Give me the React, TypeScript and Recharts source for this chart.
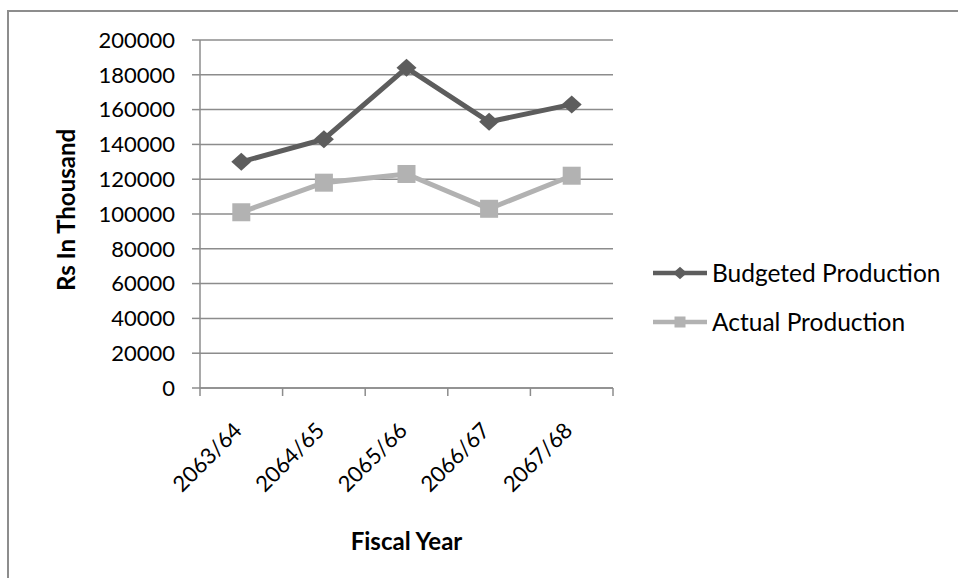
import { LineChart, Line, XAxis, YAxis, CartesianGrid, Legend } from 'recharts';

const years = ['2063/64', '2064/65', '2065/66', '2066/67', '2067/68'];
const budgeted = [130000, 143000, 184000, 153000, 163000];
const actual = [101000, 118000, 123000, 103000, 122000];
const yTicks = [0, 20000, 40000, 60000, 80000, 100000, 120000, 140000, 160000, 180000, 200000];
const seriesOrder = ['budgeted', 'actual'];

const COLORS = {
  budgeted: '#5d5d5d',
  actual: '#b2b2b2',
  grid: '#8c8c8c',
  text: '#000000',
};
const FONT = 'Lato, "Open Sans", sans-serif';

const data = years.map((year, i) => ({
  year,
  budgeted: budgeted[i],
  actual: actual[i],
}));

function Diamond({ cx, cy, fill, size = 10 }: any) {
  return (
    <path
      d={`M${cx},${cy - size * 0.9} L${cx + size},${cy} L${cx},${cy + size * 0.9} L${cx - size},${cy} Z`}
      fill={fill}
    />
  );
}

function Square({ cx, cy, fill, size = 9 }: any) {
  return <rect x={cx - size} y={cy - size} width={size * 2} height={size * 2} fill={fill} />;
}

// category labels sit at band centres, tick marks at band edges (Excel style)
function YearTick({ x, y, payload, index, visibleTicksCount }: any) {
  const half = payload.offset ?? 41.3;
  const last = index === visibleTicksCount - 1;
  const tx = x + 2;
  const ty = y + 44;
  return (
    <g>
      <line x1={x - half} y1={y} x2={x - half} y2={y + 8} stroke={COLORS.grid} strokeWidth={1.5} />
      {last && <line x1={x + half} y1={y} x2={x + half} y2={y + 8} stroke={COLORS.grid} strokeWidth={1.5} />}
      <text
        x={tx}
        y={ty}
        textAnchor="end"
        transform={`rotate(-45, ${tx}, ${ty})`}
        fontFamily={FONT}
        fontSize={22}
        fill={COLORS.text}
      >
        {payload.value}
      </text>
    </g>
  );
}

function LegendContent({ payload }: any) {
  const items = [...(payload || [])].sort(
    (a: any, b: any) => seriesOrder.indexOf(a.dataKey) - seriesOrder.indexOf(b.dataKey)
  );
  return (
    <div style={{ paddingLeft: 40, fontFamily: FONT, fontSize: 24.5, color: COLORS.text }}>
      {items.map((entry: any) => (
        <div key={entry.value} style={{ display: 'flex', alignItems: 'center', height: 49 }}>
          <svg width={56} height={20} style={{ marginRight: 3 }}>
            <line x1={0} y1={10} x2={54} y2={10} stroke={entry.color} strokeWidth={4.5} />
            {entry.dataKey === 'budgeted' ? (
              <Diamond cx={27} cy={10} fill={entry.color} size={7} />
            ) : (
              <Square cx={27} cy={10} fill={entry.color} size={5.5} />
            )}
          </svg>
          <span>{entry.value}</span>
        </div>
      ))}
    </div>
  );
}

const boldLabel = { fontFamily: FONT, fontSize: 24, fontWeight: 'bold', fill: COLORS.text };

export default function App() {
  return (
    <div style={{ position: 'absolute', left: 0, top: 0, width: 958, height: 578, background: '#fff' }}>
      <div
        style={{
          position: 'absolute',
          left: 7,
          top: 10,
          width: 951,
          height: 568,
          borderLeft: '2px solid #8d8d8d',
          borderTop: '2px solid #8d8d8d',
        }}
      />
      <LineChart
        width={958}
        height={578}
        data={data}
        margin={{ top: 40, right: 0, bottom: 0, left: 0 }}
        style={{ position: 'absolute', left: 0, top: 0 }}
      >
        <CartesianGrid vertical={false} stroke={COLORS.grid} strokeWidth={1.5} />
        <XAxis
          dataKey="year"
          scale="band"
          height={190}
          interval={0}
          tickLine={false}
          tickSize={0}
          tickMargin={0}
          axisLine={{ stroke: COLORS.grid, strokeWidth: 1.5 }}
          tick={<YearTick />}
          label={{
            value: 'Fiscal Year',
            content: ({ viewBox }: any) => (
              <text
                x={viewBox.x + viewBox.width / 2}
                y={viewBox.y + 152}
                textAnchor="middle"
                dominantBaseline="central"
                {...boldLabel}
              >
                Fiscal Year
              </text>
            ),
          }}
        />
        <YAxis
          width={200}
          domain={[0, 200000]}
          ticks={yTicks}
          interval={0}
          tickSize={8}
          tickMargin={17}
          tickLine={{ stroke: COLORS.grid, strokeWidth: 1.5 }}
          axisLine={{ stroke: COLORS.grid, strokeWidth: 1.5 }}
          tick={{ fontFamily: FONT, fontSize: 22, fill: COLORS.text }}
          label={{
            value: 'Rs In Thousand',
            content: ({ viewBox }: any) => {
              const lx = viewBox.x + 65;
              const ly = viewBox.y + 170;
              return (
                <text
                  x={lx}
                  y={ly}
                  textAnchor="middle"
                  dominantBaseline="central"
                  transform={`rotate(-90, ${lx}, ${ly})`}
                  {...boldLabel}
                >
                  Rs In Thousand
                </text>
              );
            },
          }}
        />
        <Legend
          layout="vertical"
          align="right"
          verticalAlign="top"
          width={345}
          wrapperStyle={{ top: 248 }}
          content={<LegendContent />}
        />
        <Line
          dataKey="budgeted"
          name="Budgeted Production"
          stroke={COLORS.budgeted}
          strokeWidth={5}
          isAnimationActive={false}
          dot={(p: any) => <Diamond key={`b-${p.index}`} cx={p.cx} cy={p.cy} fill={COLORS.budgeted} />}
          activeDot={false}
        />
        <Line
          dataKey="actual"
          name="Actual Production"
          stroke={COLORS.actual}
          strokeWidth={5}
          isAnimationActive={false}
          dot={(p: any) => <Square key={`a-${p.index}`} cx={p.cx} cy={p.cy} fill={COLORS.actual} />}
          activeDot={false}
        />
      </LineChart>
    </div>
  );
}
